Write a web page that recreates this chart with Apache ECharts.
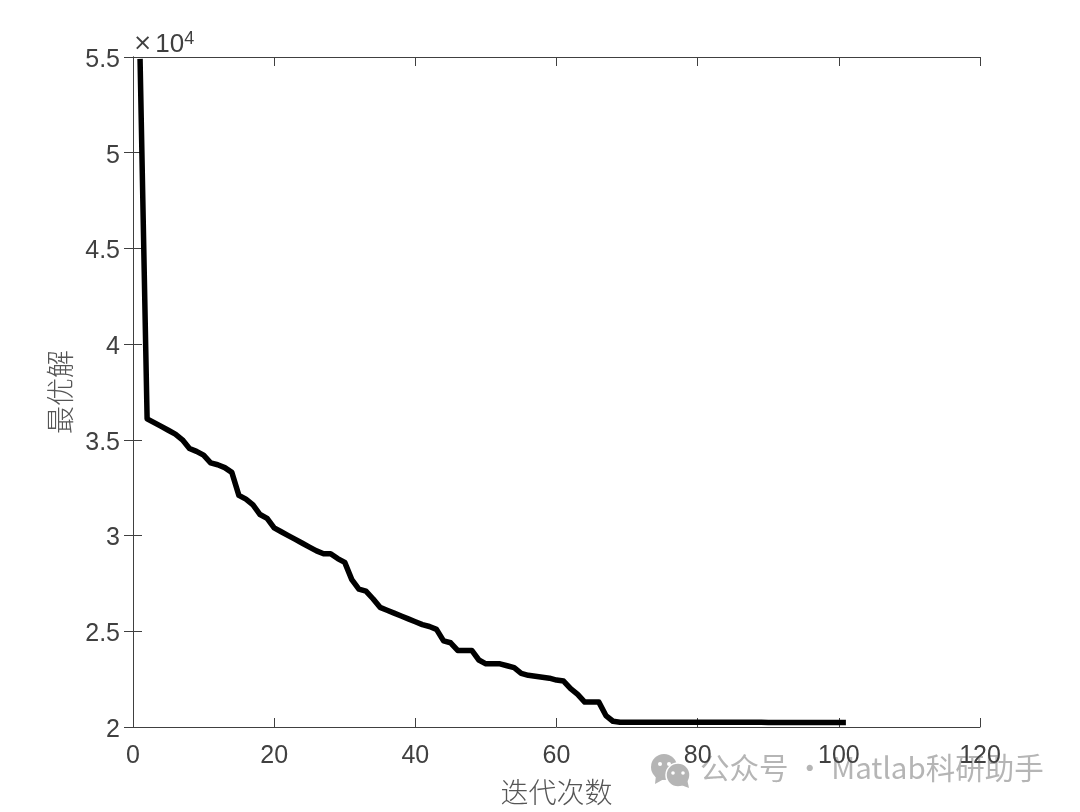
<!DOCTYPE html>
<html><head><meta charset="utf-8">
<style>html,body{margin:0;padding:0;background:#fff}#c{width:1080px;height:812px}</style>
<script src="https://cdn.jsdelivr.net/npm/echarts@6/dist/echarts.min.js"></script>
</head><body><div id="c"></div>
<script>
const bestValues = [54900,36100,35900,35700,35500,35300,35000,34550,34400,34200,
33800,33700,33550,33300,32100,31900,31600,31100,30900,30400,
30200,30000,29800,29600,29400,29200,29050,29050,28800,28600,
27700,27200,27100,26700,26250,26100,25950,25800,25650,25500,
25350,25250,25100,24500,24400,24000,24000,24000,23500,23300,
23300,23300,23200,23100,22800,22700,22650,22600,22550,22450,
22400,22000,21700,21300,21300,21300,20600,20300,20250,20250,
20250,20250,20250,20250,20250,20250,20250,20250,20250,20250,
20250,20250,20250,20250,20250,20250,20250,20250,20250,20230,
20230,20230,20230,20230,20230,20230,20230,20230,20230,20230,20230];
const xTicks = {min:0,max:120,interval:20};
const yTicks = {min:20000,max:55000,interval:5000};
const xName = '迭代次数';
const yName = '最优解';
const watermark = '公众号 · Matlab科研助手';

const ink = '#404040', cjk = '"Noto Sans CJK SC","Liberation Sans",sans-serif', latin = '"Liberation Sans",Arial,sans-serif';
const tick = {show:true,inside:true,length:9,lineStyle:{color:ink,width:1}};
const line = {show:true,lineStyle:{color:ink,width:1}};
const points = bestValues.map((v,i)=>[i+1,v]);
const chart = echarts.init(document.getElementById('c'),null,{renderer:'canvas'});
chart.setOption({
  animation:false,
  backgroundColor:'#fff',
  grid:{left:133,top:57,width:847,height:670,show:false},
  xAxis:[
    {type:'value',position:'bottom',...xTicks,name:xName,nameLocation:'middle',nameGap:51,
     nameTextStyle:{fontFamily:cjk,fontSize:28,color:'#555',fontWeight:300},
     axisLine:line,axisTick:tick,splitLine:{show:false},
     axisLabel:{color:ink,fontFamily:latin,fontSize:25,margin:17,showMinLabel:true,showMaxLabel:true}},
    {type:'value',position:'top',...xTicks,axisLine:line,axisTick:tick,axisLabel:{show:false},splitLine:{show:false}}
  ],
  yAxis:[
    {type:'value',position:'left',...yTicks,name:yName,nameLocation:'middle',nameGap:59,nameRotate:90,
     nameTextStyle:{fontFamily:cjk,fontSize:28,color:'#555',fontWeight:300},
     axisLine:line,axisTick:tick,splitLine:{show:false},
     axisLabel:{color:ink,fontFamily:latin,fontSize:25,margin:13,verticalAlign:'top',lineHeight:6,formatter:v=>String(v/10000)}},
    {type:'value',position:'right',...yTicks,axisLine:line,axisTick:tick,axisLabel:{show:false},splitLine:{show:false}}
  ],
  series:[{type:'line',xAxisIndex:0,yAxisIndex:0,data:points,showSymbol:false,symbol:'none',
    lineStyle:{color:'#000',width:5.5,cap:'butt',join:'round'},z:5}],
  graphic:[
    {type:'text',left:133,top:30,z:10,style:{
      rich:{x:{fontFamily:'"DejaVu Sans",sans-serif',fontSize:23,fill:ink,padding:[0,3,0,0]},
            a:{fontFamily:latin,fontSize:26,fill:ink},
            b:{fontFamily:latin,fontSize:18,fill:ink,verticalAlign:'top',padding:[0,0,11,0]}},
      text:'{x|×}{a|10}{b|4}'}},
    {type:'group',left:651,top:754,z:-1,silent:true,children:[
      {type:'circle',shape:{cx:13,cy:12,r:13},style:{fill:'#b5b5b5'}},
      {type:'polygon',shape:{points:[[5,20],[4,29],[13,24]]},style:{fill:'#b5b5b5'}},
      {type:'circle',shape:{cx:27,cy:20,r:12},style:{fill:'#b5b5b5',stroke:'#fff',lineWidth:1.5}},
      {type:'polygon',shape:{points:[[30,30],[38,33],[36,24]]},style:{fill:'#b5b5b5'}},
      {type:'circle',shape:{cx:9,cy:9,r:2},style:{fill:'#fff'}},
      {type:'circle',shape:{cx:18,cy:9,r:2},style:{fill:'#fff'}},
      {type:'circle',shape:{cx:22,cy:18,r:1.8},style:{fill:'#fff'}},
      {type:'circle',shape:{cx:32,cy:18,r:1.8},style:{fill:'#fff'}}
    ]},
    {type:'text',left:700,top:753,z:-1,silent:true,style:{text:watermark,fontFamily:cjk,fontSize:29.5,fill:'#b5b5b5'}}
  ]
});
</script></body></html>
